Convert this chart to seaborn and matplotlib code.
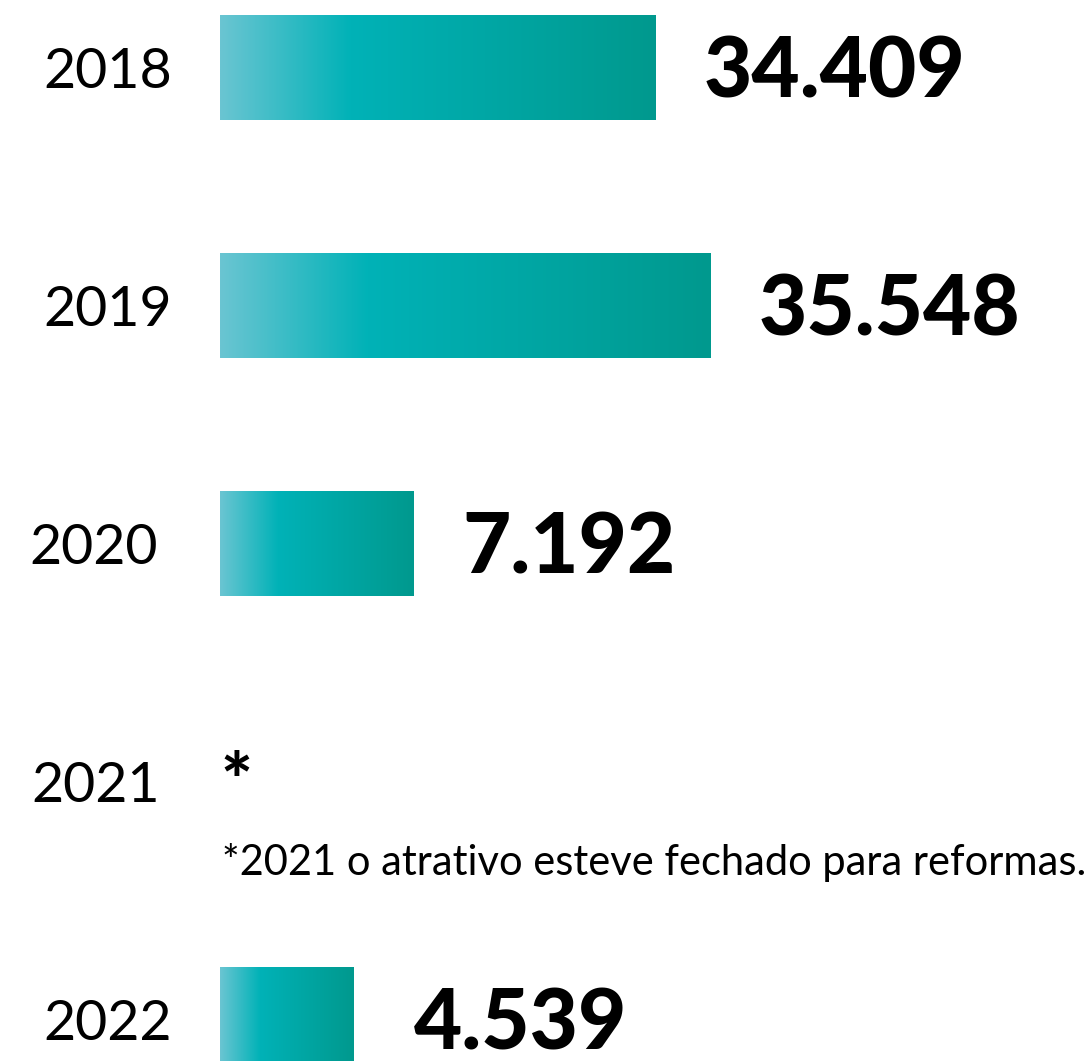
import numpy as np
import pandas as pd
import matplotlib.pyplot as plt
import seaborn as sns
from matplotlib.colors import LinearSegmentedColormap

# data
anos = ['2018', '2019', '2020', '2021', '2022']
visitantes = [34409, 35548, 7192, None, 4539]
# drawn bar length as it appears in the infographic (not proportional to values)
comprimento = [436, 491, 194, 0, 134]
nota = '*2021 o atrativo esteve fechado para reformas.'

df = pd.DataFrame({'ano': anos, 'barra': comprimento})

sns.set_theme(style='white')
plt.rcParams['font.family'] = ['Lato', 'DejaVu Sans']

fig = plt.figure(figsize=(10.91, 10.61), dpi=100)
ax = fig.add_axes([0, 0, 1, 1])

sns.barplot(data=df, x='barra', y='ano', orient='h', width=0.44,
            color='#00b2b7', ax=ax)

# layout: one category step = 238 px, x data unit = 1 px, bars start at px 220
step = 238.0
xlim = (-220, 871)
ylim = ((1061 - 67.5) / step, -67.5 / step)

grad = LinearSegmentedColormap.from_list(
    'teal', [(0, '#6ac5d2'), (0.3, '#00b2b7'), (1, '#00998e')])
ramp = np.linspace(0, 1, 256).reshape(1, -1)
for p in list(ax.patches):
    x0, y0, w, h = p.get_x(), p.get_y(), p.get_width(), p.get_height()
    p.set_facecolor('none')
    p.set_edgecolor('none')
    if w <= 0:
        continue
    ax.imshow(ramp, cmap=grad, extent=[x0, x0 + w, y0 + h, y0],
              aspect='auto', interpolation='bilinear', zorder=2)

ax.set_xlim(*xlim)
ax.set_ylim(*ylim)

# year labels (right edge in px, per row)
ano_dir = [172, 172, 158, 160, 172]
for i, a in enumerate(anos):
    ax.text(ano_dir[i] - 220, i + 5 / step, a, ha='right', va='center',
            fontsize=40, color='black')

# value labels
for i, (v, c) in enumerate(zip(visitantes, comprimento)):
    if v is None:
        ax.text(0, i + 4 / step, '*', ha='left', va='center',
                fontsize=54, fontweight='black', color='black')
        continue
    rotulo = f'{v:,}'.replace(',', '.')
    gap = 60 if i == 4 else 48
    ax.text(c + gap, i + 5 / step, rotulo, ha='left', va='center',
            fontsize=60, fontweight='black', color='black')

ax.text(2, 3 + (862 - 781) / step, nota, ha='left', va='center',
        fontsize=30, color='black')

ax.set_axis_off()
fig.savefig('out.png', dpi=100)
